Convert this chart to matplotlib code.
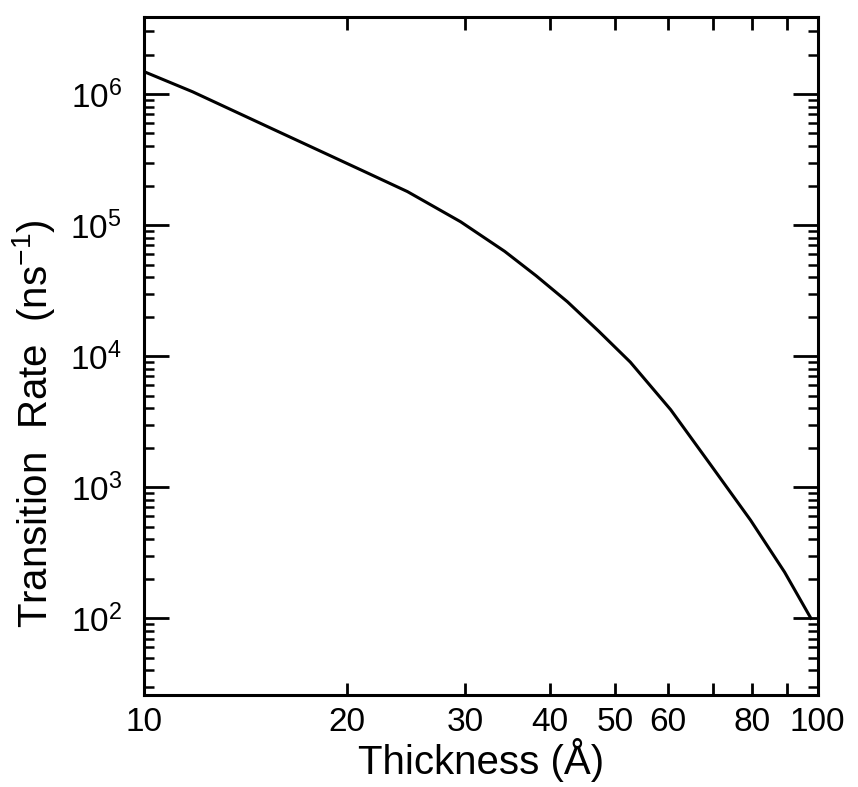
import matplotlib
matplotlib.use("Agg")
import matplotlib.pyplot as plt
from matplotlib.ticker import FixedLocator, FixedFormatter, LogLocator, NullFormatter

# curve (log-log)
thickness = [10, 11.8, 15.5, 21.1, 24.6, 29.5, 34.3, 38.2, 42.5, 47.3, 52.7,
             60.5, 69.3, 79.5, 89.3, 97.7]
rate = [1.48e6, 1.04e6, 5.42e5, 2.6e5, 1.8e5, 1.06e5, 6.3e4, 4.1e4, 2.6e4,
        1.55e4, 9.0e3, 3.9e3, 1.49e3, 5.6e2, 2.25e2, 1.0e2]

x_ticks = [10, 20, 30, 40, 50, 60, 70, 80, 90, 100]
x_ticklabels = ["10", "20", "30", "40", "50", "60", "", "80", "", "100"]

plt.rcParams["font.family"] = ["Liberation Sans", "DejaVu Sans"]
plt.rcParams["mathtext.fontset"] = "custom"
plt.rcParams["mathtext.rm"] = "Liberation Sans"
plt.rcParams["mathtext.default"] = "regular"

fig = plt.figure(figsize=(8.58, 7.87), dpi=100)
ax = fig.add_axes([0.168, 0.117, 0.785, 0.862])

ax.plot(thickness, rate, color="black", lw=2.2, solid_joinstyle="round")
ax.set_xscale("log")
ax.set_yscale("log")
ax.set_xlim(10, 100)
ax.set_ylim(26, 3.9e6)

ax.xaxis.set_major_locator(FixedLocator(x_ticks))
ax.xaxis.set_major_formatter(FixedFormatter(x_ticklabels))
ax.xaxis.set_minor_locator(FixedLocator([]))
ax.xaxis.set_minor_formatter(NullFormatter())
ax.yaxis.set_major_locator(LogLocator(base=10, numticks=10))
ax.yaxis.set_minor_locator(LogLocator(base=10, subs=range(2, 10), numticks=10))
ax.yaxis.set_minor_formatter(NullFormatter())

for s in ax.spines.values():
    s.set_linewidth(2.2)

ax.tick_params(axis="x", which="major", direction="in", top=True, bottom=True,
               length=9, width=2, labelsize=24, pad=9)
ax.tick_params(axis="y", which="major", direction="in", left=True, right=True,
               length=18, width=2, labelsize=24, pad=16)
ax.tick_params(axis="y", which="minor", direction="in", left=True, right=True,
               length=7, width=1.8)

ax.set_xlabel("Thickness (Å)", fontsize=29, labelpad=0)
ax.set_ylabel("Transition  Rate  (ns$^{-1}$)", fontsize=29)
ax.yaxis.set_label_coords(-0.13, 0.40)

fig.savefig("out.png", dpi=100)
